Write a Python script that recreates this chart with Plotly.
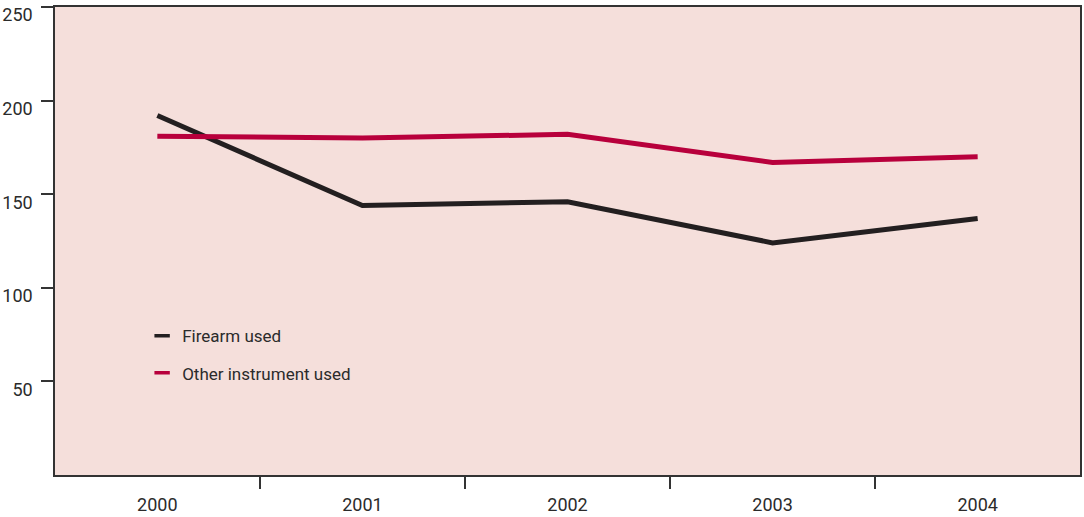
import plotly.graph_objects as go

years = [2000, 2001, 2002, 2003, 2004]
firearm = [192, 144, 146, 124, 137]
other = [181, 180, 182, 167, 170]
series_names = ["Firearm used", "Other instrument used"]
series_colors = ["#231f20", "#b8003c"]
ytick_vals = [50, 100, 150, 200, 250]
ytick_text = ["50", "100", "150", "200", "250"]

FONT = "Roboto, DejaVu Sans Condensed, sans-serif"
TXT = "#2b2b2b"

fig = go.Figure()
for name, vals, col in zip(series_names, [firearm, other], series_colors):
    fig.add_trace(go.Scatter(x=years, y=vals, mode="lines", name=name,
                             showlegend=False,
                             line=dict(color=col, width=5)))
# legend entries with short line keys
for i, (name, col) in enumerate(zip(series_names, series_colors)):
    fig.add_trace(go.Scatter(x=[None], y=[None], mode="markers", name=name,
                             legendgroup=f"g{i}",
                             marker=dict(symbol="line-ew", size=11,
                                         line=dict(color=col, width=3.5))))

fig.update_layout(
    width=1084, height=517,
    margin=dict(l=53, r=2, t=7, b=42),
    paper_bgcolor="white",
    plot_bgcolor="#f5dfdb",
    font=dict(family=FONT, color=TXT, size=18),
    showlegend=True,
    legend=dict(x=0.085, y=0.335, xanchor="left", yanchor="top",
                bgcolor="rgba(0,0,0,0)", font=dict(size=17, color=TXT),
                traceorder="grouped", tracegroupgap=12, itemwidth=30),
)
fig.update_xaxes(
    range=[1999.501, 2004.499], tickvals=years, ticktext=[str(y) for y in years],
    ticks="", showgrid=False, zeroline=False,
    showline=True, linecolor="#333333", linewidth=1.5, mirror=True,
    tickfont=dict(size=18, color=TXT), ticklabelstandoff=13,
    minor=dict(ticks="outside", tick0=1999.5, dtick=1, ticklen=12,
               tickcolor="#333333", tickwidth=1.5, showgrid=False),
)
fig.update_yaxes(
    range=[0, 250], tickvals=ytick_vals, ticktext=ytick_text,
    ticks="outside", ticklen=12, tickcolor="#333333", tickwidth=1.5,
    showgrid=False, zeroline=False,
    showline=True, linecolor="#333333", linewidth=1.5, mirror=True,
    tickfont=dict(size=18, color=TXT),
    ticklabelshift=8, ticklabelstandoff=5,
)

fig.write_html("out.html")
